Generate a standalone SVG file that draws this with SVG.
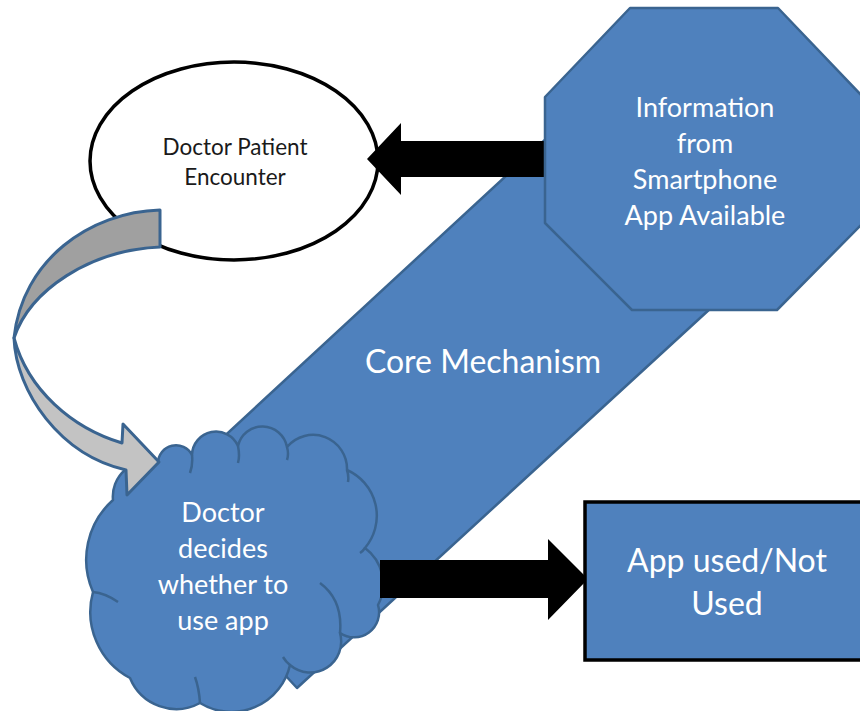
<svg xmlns="http://www.w3.org/2000/svg" width="860" height="711" viewBox="0 0 860 711">
<style>
.blue{fill:#4F81BD;stroke:#3A6490;stroke-width:2.5;stroke-linejoin:round}
.wt{fill:#FFFFFF;font-family:Lato,"Liberation Sans",sans-serif;text-anchor:middle}
.dk{fill:#1A1A1A;font-family:Lato,"Liberation Sans",sans-serif;text-anchor:middle}
.blk{fill:#000000}
.inner{fill:none;stroke:#3A6490;stroke-width:2.5}
</style>
<rect width="860" height="711" fill="#FFFFFF"/>
<g id="core-mechanism">
<polygon class="blue" points="600,89 760,263 297,688 138,516"/>
<text class="wt" x="483" y="373" font-size="32">Core Mechanism</text>
</g>
<g id="encounter">
<ellipse cx="234" cy="161" rx="144" ry="99" fill="#FFFFFF" stroke="#000000" stroke-width="3.5"/>
<text class="dk" x="235" y="155" font-size="22.5">Doctor Patient</text>
<text class="dk" x="235" y="185" font-size="22.5">Encounter</text>
</g>
<g id="decision">
<path class="blue" d="M158,463 A18,18 0 0 1 192,455 A24,24 0 0 1 238,446 A25,25 0 0 1 287,447 A34,34 0 0 1 347,470 A50,50 0 0 1 365,548 A45,45 0 0 1 378,605 A25,25 0 0 1 340,633 A31,31 0 0 1 290,665 A60,60 0 0 1 200,703 A50,50 0 0 1 130,678 A75,75 0 0 1 93,592 A80,80 0 0 1 113,500 A35,35 0 0 1 158,463 Z"/>
<path class="inner" d="M192,455 Q193,465 190,473 M238,446 Q240,456 238,463 M287,447 Q289,454 287,460 M347,470 Q349,476 348,482 M365,548 Q363,551 360,553 M320,583 Q343,600 340,633 M290,665 Q286,662 283,657 M200,703 Q199,688 195,677 M93,592 Q105,593 118,602"/>
<text class="wt" x="223" y="522" font-size="27">Doctor</text>
<text class="wt" x="223" y="558" font-size="27">decides</text>
<text class="wt" x="223" y="594" font-size="27">whether to</text>
<text class="wt" x="223" y="630" font-size="27">use app</text>
</g>
<g id="connectors">
<path d="M160,210 C90,212 22,260 14,338 C30,290 90,250 160,247 Z" fill="#A0A0A0" stroke="#3A6490" stroke-width="3" stroke-linejoin="round"/>
<path d="M14,338 C16,392 60,455 126,470 L127,495 L159,462 L123,424 L122,443 C72,428 28,390 14,338 Z" fill="#C3C3C3" stroke="#3A6490" stroke-width="3" stroke-linejoin="round"/>
<polygon class="blk" points="367,159 401,123 401,141 545,141 545,177 401,177 401,195"/>
<polygon class="blk" points="380,560 548,560 548,539 588,579 548,620 548,598 380,598"/>
</g>
<g id="information">
<polygon class="blue" stroke-width="3" points="630,8 778,8 863,97 863,223 777,310 632,310 545,223 545,97"/>
<text class="wt" x="705" y="117" font-size="27">Information</text>
<text class="wt" x="705" y="153" font-size="27">from</text>
<text class="wt" x="705" y="189" font-size="27">Smartphone</text>
<text class="wt" x="705" y="225" font-size="27">App Available</text>
</g>
<g id="outcome">
<rect x="585" y="502" width="290" height="158" fill="#4F81BD" stroke="#000000" stroke-width="3.5"/>
<text class="wt" x="727" y="572" font-size="32">App used/Not</text>
<text class="wt" x="727" y="615" font-size="32">Used</text>
</g>
</svg>
